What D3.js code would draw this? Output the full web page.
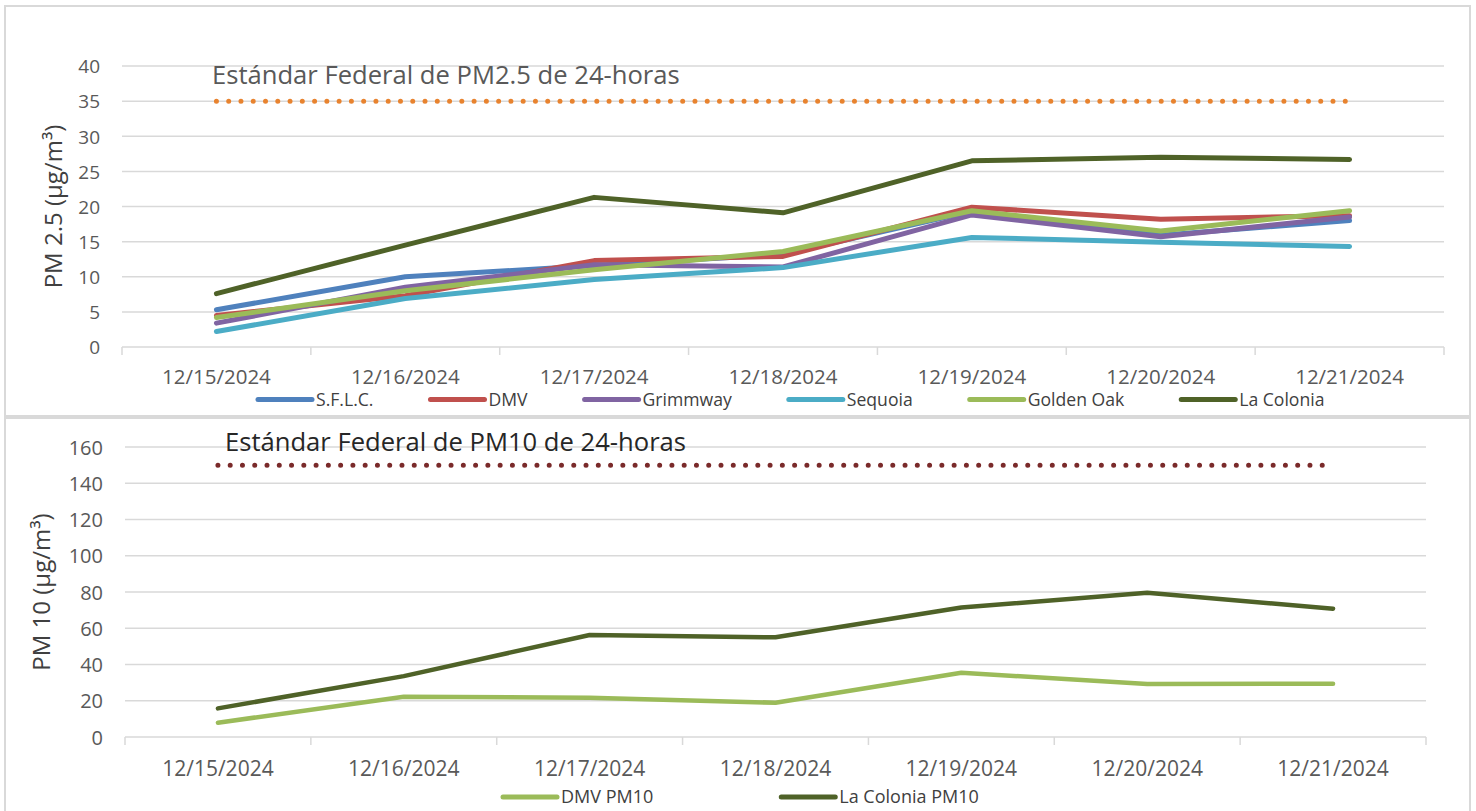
<!DOCTYPE html>
<html>
<head>
<meta charset="utf-8">
<script src="https://cdn.jsdelivr.net/npm/d3@7"></script>
<style>
  body { margin: 0; background: #fff; }
  text { font-family: "Open Sans", sans-serif; }
</style>
</head>
<body>
<div id="chart"></div>
<script>
// ---- data ----
var dates = ["12/15/2024", "12/16/2024", "12/17/2024", "12/18/2024", "12/19/2024", "12/20/2024", "12/21/2024"];

var pm25Names = ["S.F.L.C.", "DMV", "Grimmway", "Sequoia", "Golden Oak", "La Colonia"];
var sflc      = [5.3, 10.0, 11.6, 13.2, 19.3, 15.9, 18.0];
var dmv       = [4.5, 7.3, 12.3, 12.9, 19.9, 18.2, 18.7];
var grimmway  = [3.4, 8.5, 11.7, 11.4, 18.8, 15.7, 18.5];
var sequoia   = [2.2, 6.9, 9.6, 11.3, 15.6, 14.9, 14.3];
var goldenOak = [4.2, 8.0, 11.0, 13.6, 19.4, 16.5, 19.4];
var laColonia = [7.6, 14.5, 21.3, 19.1, 26.5, 27.0, 26.7];
var pm25Standard = 35;
var pm25Ticks = [0, 5, 10, 15, 20, 25, 30, 35, 40];

var pm10Names = ["DMV PM10", "La Colonia PM10"];
var dmvPm10       = [7.9, 22.2, 21.7, 18.9, 35.5, 29.2, 29.4];
var laColoniaPm10 = [15.8, 33.6, 56.3, 55.0, 71.4, 79.6, 70.8];
var pm10Standard = 150;
var pm10Ticks = [0, 20, 40, 60, 80, 100, 120, 140, 160];

var svg = d3.select("#chart").append("svg")
  .attr("width", 1476)
  .attr("height", 811);

function drawChart(cfg) {
  var g = svg.append("g");

  // chart frame
  g.append("rect")
    .attr("x", cfg.box[0]).attr("y", cfg.box[1])
    .attr("width", cfg.box[2]).attr("height", cfg.box[3])
    .attr("fill", "#fff").attr("stroke", "#d9d9d9").attr("stroke-width", 2);

  var x = d3.scaleBand().domain(dates).range([cfg.left, cfg.right]);
  var y = d3.scaleLinear().domain([0, cfg.ticks[cfg.ticks.length - 1]]).range([cfg.bottom, cfg.top]);

  // gridlines
  g.selectAll(".grid").data(cfg.ticks.slice(1)).enter().append("line")
    .attr("x1", cfg.left).attr("x2", cfg.right)
    .attr("y1", function(d) { return y(d); }).attr("y2", function(d) { return y(d); })
    .attr("stroke", "#d9d9d9").attr("stroke-width", 1.5);

  // y axis labels
  var yAxis = d3.axisLeft(y).tickValues(cfg.ticks).tickSize(0).tickPadding(0);
  var ya = g.append("g").attr("transform", "translate(" + (cfg.left - 22) + ",0)").call(yAxis);
  ya.select(".domain").remove();
  ya.selectAll("text").attr("fill", "#595959").style("font-size", cfg.yFont + "px")
    .attr("dy", "0.36em");

  // x axis: baseline plus tick marks at band edges
  g.append("line")
    .attr("x1", cfg.left).attr("x2", cfg.right)
    .attr("y1", cfg.bottom).attr("y2", cfg.bottom)
    .attr("stroke", "#d9d9d9").attr("stroke-width", 1.5);
  var edges = dates.map(function(d) { return x(d); }).concat([cfg.right]);
  g.selectAll(".xt").data(edges).enter().append("line")
    .attr("x1", function(d) { return d; }).attr("x2", function(d) { return d; })
    .attr("y1", cfg.bottom).attr("y2", cfg.bottom + 8)
    .attr("stroke", "#d9d9d9").attr("stroke-width", 1.5);
  g.selectAll(".xl").data(dates).enter().append("text")
    .attr("x", function(d) { return x(d) + x.bandwidth() / 2; })
    .attr("y", cfg.bottom + cfg.xLabelDy)
    .attr("text-anchor", "middle")
    .attr("fill", "#595959")
    .style("font-size", cfg.xFont + "px")
    .text(function(d) { return d; });

  // y title
  g.append("text")
    .attr("transform", "translate(" + cfg.yTitleX + "," + ((cfg.top + cfg.bottom) / 2) + ") rotate(-90)")
    .attr("text-anchor", "middle")
    .attr("fill", "#404040")
    .style("font-size", "24px")
    .text(cfg.yTitle);

  // standard dotted line
  var cx = function(i) { return x(dates[i]) + x.bandwidth() / 2; };
  g.append("line")
    .attr("x1", cx(0)).attr("x2", cx(dates.length - 1))
    .attr("y1", y(cfg.standard)).attr("y2", y(cfg.standard))
    .attr("stroke", cfg.stdColor).attr("stroke-width", 5)
    .attr("stroke-linecap", "round")
    .attr("stroke-dasharray", "0 12.27");
  g.append("text")
    .attr("x", cfg.stdTextX).attr("y", cfg.stdTextY)
    .attr("fill", cfg.stdTextColor)
    .style("font-size", cfg.stdFont + "px")
    .text(cfg.stdText);

  // series lines
  var line = d3.line()
    .x(function(d, i) { return cx(i); })
    .y(function(d) { return y(d); });
  cfg.series.forEach(function(s) {
    g.append("path")
      .datum(s.values)
      .attr("d", line)
      .attr("fill", "none")
      .attr("stroke", s.color)
      .attr("stroke-width", cfg.lineWidth)
      .attr("stroke-linejoin", "round")
      .attr("stroke-linecap", "round");
  });

  // legend
  var lx = cfg.legendX;
  cfg.series.forEach(function(s) {
    g.append("line")
      .attr("x1", lx).attr("x2", lx + 54)
      .attr("y1", cfg.legendY).attr("y2", cfg.legendY)
      .attr("stroke", s.color).attr("stroke-width", 5)
      .attr("stroke-linecap", "round");
    var t = g.append("text")
      .attr("x", lx + 58).attr("y", cfg.legendY + 6)
      .attr("fill", "#404040")
      .style("font-size", cfg.legendFont + "px")
      .text(s.name);
    lx += 58 + t.node().getComputedTextLength() + cfg.legendGap;
  });
}

drawChart({
  box: [5, 6, 1465, 410],
  left: 122, right: 1444, top: 66, bottom: 347,
  ticks: pm25Ticks, yFont: 19, xFont: 20.5, xLabelDy: 37,
  yTitle: "PM 2.5 (µg/m³)", yTitleX: 62,
  standard: pm25Standard, stdColor: "#e8832f",
  stdText: "Estándar Federal de PM2.5 de 24-horas", stdTextX: 212, stdTextY: 84, stdTextColor: "#595959", stdFont: 25.6,
  lineWidth: 5,
  legendX: 258, legendY: 399.5, legendGap: 57, legendFont: 17.6,
  series: [
    { name: pm25Names[0], values: sflc, color: "#4f81bd" },
    { name: pm25Names[1], values: dmv, color: "#c0504d" },
    { name: pm25Names[2], values: grimmway, color: "#8064a2" },
    { name: pm25Names[3], values: sequoia, color: "#4bacc6" },
    { name: pm25Names[4], values: goldenOak, color: "#9bbb59" },
    { name: pm25Names[5], values: laColonia, color: "#4f6228" }
  ]
});

drawChart({
  box: [5, 418, 1465, 400],
  left: 125, right: 1426, top: 447, bottom: 737,
  ticks: pm10Ticks, yFont: 20, xFont: 21, xLabelDy: 39,
  yTitle: "PM 10 (µg/m³)", yTitleX: 50,
  standard: pm10Standard, stdColor: "#7a2a2a",
  stdText: "Estándar Federal de PM10 de 24-horas", stdTextX: 225, stdTextY: 451, stdTextColor: "#262626", stdFont: 25.6,
  lineWidth: 4.5,
  legendX: 503, legendY: 797, legendGap: 128, legendFont: 18,
  series: [
    { name: pm10Names[0], values: dmvPm10, color: "#9bbb59" },
    { name: pm10Names[1], values: laColoniaPm10, color: "#4f6228" }
  ]
});
</script>
</body>
</html>
